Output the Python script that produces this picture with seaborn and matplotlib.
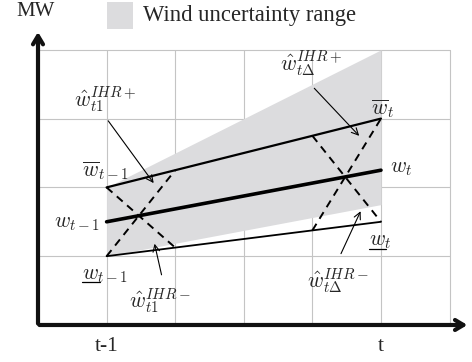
import numpy as np
import pandas as pd
import matplotlib
matplotlib.use("Agg")
import matplotlib.pyplot as plt
import seaborn as sns
from matplotlib.patches import Rectangle

sns.set_theme(style="white")
plt.rcParams['font.family'] = ['Liberation Serif', 'DejaVu Serif']
plt.rcParams['mathtext.fontset'] = 'cm'

# ---- data (schematic units: x in time steps, y in MW grid units) ----
time_pts = [1, 5]                       # t-1, t
upper_bound = [2.0, 3.0]                # w-bar
forecast = [1.5, 2.25]                  # w
lower_bound = [1.0, 1.5]                # w-underbar
band_top = [2.0, 4.0]                   # wind uncertainty range
band_bottom = [1.0, 1.75]
tick_labels = ["t-1", "t"]

# dashed ramp lines (x pairs, y pairs)
dash_x = [[1, 2], [1, 2], [4, 5], [4, 5]]
dash_y = [[2.0, 1.125], [1.0, 2.25], [2.75, 1.5], [1.375, 3.0]]

fig = plt.figure(figsize=(4.72, 3.62), dpi=100)
ax = fig.add_axes([0, 0, 1, 1])
ax.set_xlim(-0.554, 6.327)
ax.set_ylim(-0.538, 4.724)
ax.axis('off')

# grid
for gx in range(1, 7):
    ax.plot([gx, gx], [0, 4], color='#c4c4c4', lw=0.8, zorder=0)
for gy in range(1, 5):
    ax.plot([0, 6], [gy, gy], color='#c4c4c4', lw=0.8, zorder=0)

# uncertainty band
ax.fill_between(time_pts, band_bottom, band_top, color='#dcdcde', lw=0, zorder=1)

df = pd.DataFrame({
    'x': time_pts * 3,
    'y': upper_bound + forecast + lower_bound,
    's': ['up'] * 2 + ['mid'] * 2 + ['low'] * 2,
})
sns.lineplot(data=df[df.s == 'up'], x='x', y='y', color='black', lw=1.6, ax=ax, zorder=3)
sns.lineplot(data=df[df.s == 'mid'], x='x', y='y', color='black', lw=2.6, ax=ax, zorder=3)
sns.lineplot(data=df[df.s == 'low'], x='x', y='y', color='black', lw=1.3, ax=ax, zorder=3)

for xs, ys in zip(dash_x, dash_y):
    ax.plot(xs, ys, color='black', lw=1.4, ls=(0, (4, 3)), zorder=3)

# axes arrows
ax.annotate('', xy=(6.3, 0), xytext=(-0.02, 0),
            arrowprops=dict(arrowstyle='->,head_length=0.5,head_width=0.3', lw=3, color='#111111'), zorder=5)
ax.annotate('', xy=(0, 4.30), xytext=(0, -0.02),
            arrowprops=dict(arrowstyle='->,head_length=0.5,head_width=0.3', lw=3, color='#111111'), zorder=5)

# thin annotation arrows
arr = dict(arrowstyle='->', lw=0.8, color='black')
ax.annotate('', xy=(1.71, 2.03), xytext=(1.0, 3.0), arrowprops=arr)
ax.annotate('', xy=(1.69, 1.22), xytext=(1.81, 0.69), arrowprops=arr)
ax.annotate('', xy=(4.71, 2.72), xytext=(4.0, 3.47), arrowprops=arr)
ax.annotate('', xy=(4.72, 1.69), xytext=(4.4, 1.0), arrowprops=arr)

fs = 15.5
ax.text(-0.04, 4.55, 'MW', ha='center', va='center', fontsize=15)
ax.add_patch(Rectangle((1.0, 4.30), 0.38, 0.39, color='#dcdcde', lw=0, clip_on=False))
ax.text(1.53, 4.5, 'Wind uncertainty range', ha='left', va='center', fontsize=16.3)
for u, lab in zip(time_pts, tick_labels):
    ax.text(u, -0.31, lab, ha='center', va='center', fontsize=15.5)

ax.text(0.98, 2.24, r'$\overline{w}_{t-1}$', ha='center', va='center', fontsize=fs)
ax.text(0.90, 1.48, r'$w_{t-1}$', ha='right', va='center', fontsize=fs)
ax.text(0.64, 0.67, r'$w_{t-1}$', ha='left', va='baseline', fontsize=fs)
ax.plot([0.64, 0.90], [0.62, 0.62], color='black', lw=0.9)
ax.text(0.98, 3.27, r'$\hat{w}_{t1}^{IHR+}$', ha='center', va='center', fontsize=fs)
ax.text(1.78, 0.35, r'$\hat{w}_{t1}^{IHR-}$', ha='center', va='center', fontsize=fs)
ax.text(3.98, 3.79, r'$\hat{w}_{t\Delta}^{IHR+}$', ha='center', va='center', fontsize=fs)
ax.text(5.02, 3.15, r'$\overline{w}_t$', ha='center', va='center', fontsize=fs)
ax.text(5.3, 2.28, r'$w_t$', ha='center', va='center', fontsize=fs)
ax.text(4.83, 1.16, r'$w_t$', ha='left', va='baseline', fontsize=fs)
ax.plot([4.83, 5.07], [1.11, 1.11], color='black', lw=0.9)
ax.text(4.37, 0.63, r'$\hat{w}_{t\Delta}^{IHR-}$', ha='center', va='center', fontsize=fs)

fig.savefig('out.png', dpi=100)
